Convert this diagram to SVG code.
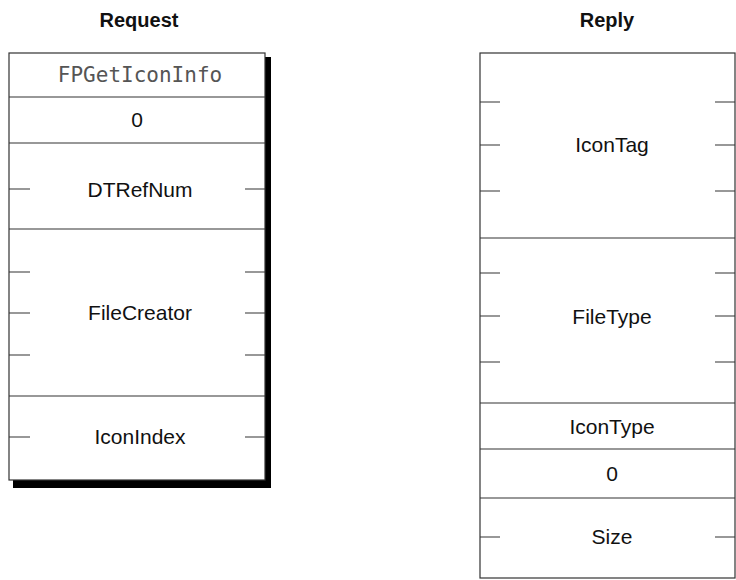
<svg xmlns="http://www.w3.org/2000/svg" width="736" height="580" viewBox="0 0 736 580">
<style>
.t{font-family:"Liberation Sans",Arial,sans-serif;font-size:21px;fill:#111;text-anchor:middle}
.h{font-family:"Liberation Sans",Arial,sans-serif;font-size:20px;font-weight:bold;fill:#111;text-anchor:middle}
.m{font-family:"DejaVu Sans Mono","Liberation Mono",monospace;font-size:21px;fill:#555;text-anchor:middle}
.b{fill:#fff;stroke:#333;stroke-width:1.2}
.l{stroke:#333;stroke-width:1.2;fill:none}
</style>
<text class="h" x="139" y="27">Request</text>
<text class="h" x="607" y="27">Reply</text>
<g id="request">
<rect x="13" y="57" width="258" height="431" fill="#000"/>
<rect class="b" x="9" y="53" width="256" height="427"/>
<path class="l" d="M9 97H265M9 143H265M9 229H265M9 396H265"/>
<path class="l" d="M9 189H30M245 189H265M9 272H30M245 272H265M9 313H30M245 313H265M9 355H30M245 355H265M9 437H30M245 437H265"/>
<text class="m" x="140" y="82">FPGetIconInfo</text>
<text class="t" x="137" y="127">0</text>
<text class="t" x="140" y="197">DTRefNum</text>
<text class="t" x="140" y="320">FileCreator</text>
<text class="t" x="140" y="444">IconIndex</text>
</g>
<g id="reply">
<rect class="b" x="480" y="53" width="255" height="525"/>
<path class="l" d="M480 238H735M480 403H735M480 449H735M480 498H735"/>
<path class="l" d="M480 102H500M715 102H735M480 145H500M715 145H735M480 191H500M715 191H735M480 273H500M715 273H735M480 316H500M715 316H735M480 362H500M715 362H735M480 537H500M715 537H735"/>
<text class="t" x="612" y="152">IconTag</text>
<text class="t" x="612" y="324">FileType</text>
<text class="t" x="612" y="434">IconType</text>
<text class="t" x="612" y="481">0</text>
<text class="t" x="612" y="544">Size</text>
</g>
<g id="connectors"/>
</svg>
